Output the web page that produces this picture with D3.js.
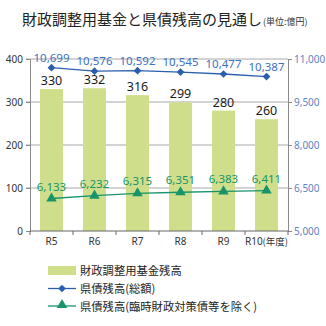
<!DOCTYPE html>
<html>
<head>
<meta charset="utf-8">
<script src="https://cdn.jsdelivr.net/npm/d3@7"></script>
<style>
  html, body { margin: 0; padding: 0; background: #fff; }
  svg { display: block; font-family: "Noto Sans CJK JP", "Noto Sans", sans-serif; }
</style>
</head>
<body>
<svg id="chart" width="326" height="326"></svg>
<script>
// Fiscal years
const years = ["R5", "R6", "R7", "R8", "R9", "R10"];
// 財政調整用基金残高 (left axis, 億円)
const fundBalance = [330, 332, 316, 299, 280, 260];
// 県債残高(総額) (right axis, 億円)
const debtTotal = [10699, 10576, 10592, 10545, 10477, 10387];
// 県債残高(臨時財政対策債等を除く) (right axis, 億円)
const debtExcl = [6133, 6232, 6315, 6351, 6383, 6411];
// Axis ticks
const leftTicks = [0, 100, 200, 300, 400];
const rightTicks = [5000, 6500, 8000, 9500, 11000];

const barColor = "#cfde8b";
const blue = "#2a5fae";
const blueText = "#3c72bf";
const green = "#17946a";
const rightAxisText = "#5d84c4";

const svg = d3.select("#chart");
const plot = { left: 30, right: 288, top: 59, bottom: 231 };

const x = d3.scaleBand().domain(years).range([plot.left, plot.right]);
const yL = d3.scaleLinear().domain([0, 400]).range([plot.bottom, plot.top]);
const yR = d3.scaleLinear().domain([5000, 11000]).range([plot.bottom, plot.top]);

// Title
const title = svg.append("text").attr("x", 22).attr("y", 25)
  .attr("fill", "#222");
title.append("tspan").attr("font-size", 15).text("財政調整用基金と県債残高の見通し");
title.append("tspan").attr("font-size", 9).attr("fill", "#333").attr("dx", 1).text("(単位:億円)");

// Horizontal grid lines
svg.append("g").selectAll("line").data(leftTicks.slice(1)).join("line")
  .attr("x1", plot.left - 4).attr("x2", plot.right)
  .attr("y1", d => yL(d)).attr("y2", d => yL(d))
  .attr("stroke", "#a8a8a8").attr("stroke-width", 1);

// Bars
const bw = 23;
svg.append("g").selectAll("rect").data(fundBalance).join("rect")
  .attr("x", (d, i) => x(years[i]) + x.bandwidth() / 2 - bw / 2)
  .attr("width", bw)
  .attr("y", d => yL(d))
  .attr("height", d => yL(0) - yL(d))
  .attr("fill", barColor);

// Left axis
const leftAxis = d3.axisLeft(yL).tickValues(leftTicks).tickSize(4).tickPadding(3);
const gl = svg.append("g").attr("transform", `translate(${plot.left},0)`).call(leftAxis);
gl.select(".domain").attr("stroke", "#8a8a8a");
gl.selectAll(".tick line").attr("stroke", "#8a8a8a");
gl.selectAll(".tick text").attr("font-size", 10).attr("fill", "#333")
  .attr("font-family", "'Noto Sans', sans-serif");

// Right axis
const rightAxis = d3.axisRight(yR).tickValues(rightTicks).tickSize(4).tickPadding(2)
  .tickFormat(d3.format(","));
const gr = svg.append("g").attr("transform", `translate(${plot.right},0)`).call(rightAxis);
gr.select(".domain").attr("stroke", "#8a8a8a");
gr.selectAll(".tick line").attr("stroke", "#8a8a8a");
gr.selectAll(".tick text").attr("font-size", 10).attr("fill", rightAxisText)
  .attr("font-family", "'Noto Sans', sans-serif");

// Bottom axis line and category boundary ticks
svg.append("line")
  .attr("x1", plot.left).attr("x2", plot.right)
  .attr("y1", yL(0)).attr("y2", yL(0))
  .attr("stroke", "#666");
const bounds = years.map(d => x(d)).concat([plot.right]);
svg.append("g").selectAll("line").data(bounds).join("line")
  .attr("x1", d => d).attr("x2", d => d)
  .attr("y1", yL(0)).attr("y2", yL(0) + 4)
  .attr("stroke", "#666");

// Category labels
const xl = svg.append("g").selectAll("text").data(years).join("text")
  .attr("x", d => x(d) + x.bandwidth() / 2)
  .attr("y", 245)
  .attr("text-anchor", "middle")
  .attr("font-size", 10)
  .attr("fill", "#333")
  .attr("font-family", "'Noto Sans', sans-serif");
xl.append("tspan").text(d => d);
xl.filter((d, i) => i === years.length - 1)
  .append("tspan").attr("font-size", 9.5)
  .attr("font-family", "'Noto Sans CJK JP', sans-serif").text("(年度)");

// Bar value labels
svg.append("g").selectAll("text").data(fundBalance).join("text")
  .attr("x", (d, i) => x(years[i]) + x.bandwidth() / 2)
  .attr("y", d => yL(d) - 4)
  .attr("text-anchor", "middle")
  .attr("font-size", 12.5)
  .attr("fill", "#1a1a1a")
  .attr("font-family", "'Noto Sans', sans-serif")
  .text(d => d);

const cx = i => x(years[i]) + x.bandwidth() / 2;
const fmt = d3.format(",");

// 県債残高(総額) line
const lineTotal = d3.line().x((d, i) => cx(i)).y(d => yR(d));
svg.append("path").datum(debtTotal).attr("d", lineTotal)
  .attr("fill", "none").attr("stroke", blue).attr("stroke-width", 1.3);
svg.append("g").selectAll("path").data(debtTotal).join("path")
  .attr("d", d3.symbol(d3.symbolDiamond2, 38))
  .attr("transform", (d, i) => `translate(${cx(i)},${yR(d)})`)
  .attr("fill", blue);
svg.append("g").selectAll("text").data(debtTotal).join("text")
  .attr("x", (d, i) => cx(i))
  .attr("y", d => yR(d) - 6)
  .attr("text-anchor", "middle")
  .attr("font-size", 11.5)
  .attr("fill", blueText)
  .attr("font-family", "'Noto Sans', sans-serif")
  .text(d => fmt(d));

// 県債残高(臨時財政対策債等を除く) line
const lineExcl = d3.line().x((d, i) => cx(i)).y(d => yR(d));
svg.append("path").datum(debtExcl).attr("d", lineExcl)
  .attr("fill", "none").attr("stroke", green).attr("stroke-width", 1.3);
svg.append("g").selectAll("path").data(debtExcl).join("path")
  .attr("d", d3.symbol(d3.symbolTriangle, 48))
  .attr("transform", (d, i) => `translate(${cx(i)},${yR(d)})`)
  .attr("fill", green);
svg.append("g").selectAll("text").data(debtExcl).join("text")
  .attr("x", (d, i) => cx(i))
  .attr("y", d => yR(d) - 8)
  .attr("text-anchor", "middle")
  .attr("font-size", 11.5)
  .attr("fill", green)
  .attr("font-family", "'Noto Sans', sans-serif")
  .text(d => fmt(d));

// Legend
const legend = svg.append("g");
const lx = 48, lw = 28, tx = 80;
legend.append("rect").attr("x", lx).attr("y", 266).attr("width", lw).attr("height", 9)
  .attr("fill", barColor);
legend.append("text").attr("x", tx).attr("y", 275).attr("font-size", 11.3).attr("fill", "#222")
  .text("財政調整用基金残高");

legend.append("line").attr("x1", lx).attr("x2", lx + lw).attr("y1", 288.5).attr("y2", 288.5)
  .attr("stroke", blue).attr("stroke-width", 1.3);
legend.append("path").attr("d", d3.symbol(d3.symbolDiamond2, 38))
  .attr("transform", `translate(${lx + lw / 2},288.5)`).attr("fill", blue);
legend.append("text").attr("x", tx).attr("y", 293).attr("font-size", 11.3).attr("fill", "#222")
  .text("県債残高(総額)");

legend.append("line").attr("x1", lx).attr("x2", lx + lw).attr("y1", 306).attr("y2", 306)
  .attr("stroke", green).attr("stroke-width", 1.3);
legend.append("path").attr("d", d3.symbol(d3.symbolTriangle, 48))
  .attr("transform", `translate(${lx + lw / 2},305)`).attr("fill", green);
legend.append("text").attr("x", tx).attr("y", 310.5).attr("font-size", 11.3).attr("fill", "#222")
  .text("県債残高(臨時財政対策債等を除く)");
</script>
</body>
</html>
